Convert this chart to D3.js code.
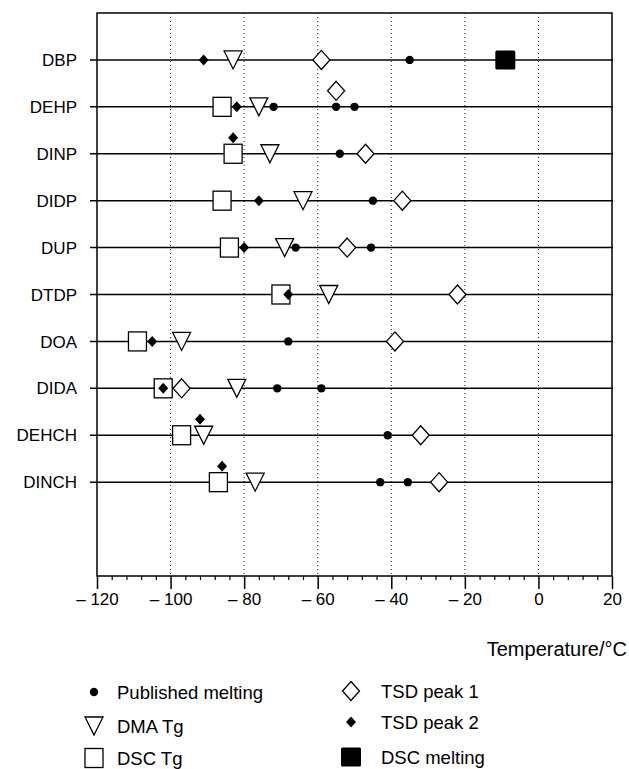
<!DOCTYPE html>
<html>
<head>
<meta charset="utf-8">
<script src="https://cdn.jsdelivr.net/npm/d3@7"></script>
<style>
  html, body { margin: 0; padding: 0; background: #fff; }
  svg { display: block; font-family: "Liberation Sans", Arial, Helvetica, sans-serif; }
</style>
</head>
<body>
<svg id="chart" width="629" height="769"></svg>
<script>
// Plasticisers and their thermal transitions (°C)
const compounds = ["DBP", "DEHP", "DINP", "DIDP", "DUP", "DTDP", "DOA", "DIDA", "DEHCH", "DINCH"];

// Published melting points (some compounds have more than one literature value)
const publishedMelting = [
  [-35], [-72, -55, -50], [-54], [-45], [-66, -45.5],
  [], [-68], [-71, -59], [-41], [-43, -35.5]
];
const dmaTg     = [-83, -76, -73, -64, -69, -57, -97, -82, -91, -77];
const dscTg     = [null, -86, -83, -86, -84, -70, -109, -102, -97, -87];
const tsdPeak1  = [-59, -55, -47, -37, -52, -22, -39, -97, -32, -27];
const tsdPeak2  = [-91, -82, -83, -76, -80, -68, -105, -102, -92, -86];
const dscMelting = [-9, null, null, null, null, null, null, null, null, null];

// Markers lifted above their row so they do not hide a neighbouring marker
const lifted = [
  { compound: "DEHP", series: "tsd1" },
  { compound: "DINP", series: "tsd2" },
  { compound: "DEHCH", series: "tsd2" },
  { compound: "DINCH", series: "tsd2" }
];

const xDomain = [-120, 20];
const majorTicks = d3.range(-120, 21, 20);
const minorTicks = d3.range(-120, 21, 4).filter(v => v % 20 !== 0);

const svg = d3.select("#chart");
const plot = { left: 97, right: 612, top: 13, bottom: 576 };

const x = d3.scaleLinear().domain(xDomain).range([plot.left, plot.right]);
const step = (plot.bottom - plot.top) / 12;
const y = d3.scalePoint().domain(compounds).range([plot.top + step, plot.top + 10 * step]);
const LIFT = 16;

// Dotted grid lines at the inner major ticks
svg.append("g")
  .selectAll("line")
  .data(majorTicks.slice(1, -1))
  .join("line")
  .attr("x1", d => x(d)).attr("x2", d => x(d))
  .attr("y1", plot.top).attr("y2", plot.bottom)
  .attr("stroke", "#222").attr("stroke-width", 1)
  .attr("stroke-dasharray", "1,3");

// Frame
svg.append("rect")
  .attr("x", plot.left).attr("y", plot.top)
  .attr("width", plot.right - plot.left).attr("height", plot.bottom - plot.top)
  .attr("fill", "none").attr("stroke", "#000").attr("stroke-width", 1.5);

// Row lines
svg.append("g")
  .selectAll("line")
  .data(compounds)
  .join("line")
  .attr("x1", plot.left - 7).attr("x2", plot.right + 1)
  .attr("y1", d => y(d)).attr("y2", d => y(d))
  .attr("stroke", "#000").attr("stroke-width", 1.5);

// Row labels
svg.append("g")
  .selectAll("text")
  .data(compounds)
  .join("text")
  .attr("x", 77).attr("y", d => y(d))
  .attr("dy", "0.36em")
  .attr("text-anchor", "end")
  .attr("font-size", 17)
  .attr("fill", "#000")
  .text(d => d);

// Bottom axis: major ticks with labels, minor ticks without
const fmt = v => v < 0 ? "\u2013 " + Math.abs(v) : String(v);
const axisMajor = d3.axisBottom(x).tickValues(majorTicks).tickSize(13).tickPadding(4).tickFormat(fmt);
const axisMinor = d3.axisBottom(x).tickValues(minorTicks).tickSize(4).tickFormat("");

const gMajor = svg.append("g").attr("transform", `translate(0,${plot.bottom})`).call(axisMajor);
gMajor.select(".domain").remove();
gMajor.selectAll(".tick line").attr("stroke", "#000").attr("stroke-width", 1.5);
gMajor.selectAll(".tick text").attr("font-size", 17).attr("fill", "#000")
  .attr("font-family", "\"Liberation Sans\", Arial, sans-serif");

const gMinor = svg.append("g").attr("transform", `translate(0,${plot.bottom})`).call(axisMinor);
gMinor.select(".domain").remove();
gMinor.selectAll(".tick line").attr("stroke", "#000").attr("stroke-width", 1.2);

// Axis title
svg.append("text")
  .attr("x", 627).attr("y", 656)
  .attr("text-anchor", "end")
  .attr("font-size", 20)
  .attr("fill", "#000")
  .text("Temperature/\u00B0C");

// Marker shapes
const shapes = {
  circle:   g => g.append("circle").attr("r", 4.2).attr("fill", "#000"),
  triangle: g => g.append("path").attr("d", "M-9,-9L9,-9L0,9Z")
                  .attr("fill", "#fff").attr("stroke", "#000").attr("stroke-width", 1.3),
  square:   g => g.append("rect").attr("x", -9).attr("y", -9.5).attr("width", 18).attr("height", 19)
                  .attr("fill", "#fff").attr("stroke", "#000").attr("stroke-width", 1.3),
  diamond:  g => g.append("path").attr("d", "M0,-9.5L8.5,0L0,9.5L-8.5,0Z")
                  .attr("fill", "#fff").attr("stroke", "#000").attr("stroke-width", 1.3),
  smallDiamond: g => g.append("path").attr("d", "M0,-5.5L5,0L0,5.5L-5,0Z").attr("fill", "#000"),
  bigSquare: g => g.append("rect").attr("x", -10).attr("y", -9.5).attr("width", 20).attr("height", 19)
                  .attr("rx", 1.5).attr("fill", "#000")
};

// Series in drawing order (open markers underneath filled ones)
const series = [
  { key: "dscTg",  label: "DSC Tg",            shape: "square",       values: dscTg.map(v => [v]) },
  { key: "dmaTg",  label: "DMA Tg",            shape: "triangle",     values: dmaTg.map(v => [v]) },
  { key: "tsd1",   label: "TSD peak 1",        shape: "diamond",      values: tsdPeak1.map(v => [v]) },
  { key: "dscMelt",label: "DSC melting",       shape: "bigSquare",    values: dscMelting.map(v => [v]) },
  { key: "pubMelt",label: "Published melting", shape: "circle",       values: publishedMelting },
  { key: "tsd2",   label: "TSD peak 2",        shape: "smallDiamond", values: tsdPeak2.map(v => [v]) }
];

const isLifted = (c, k) => lifted.some(l => l.compound === c && l.series === k);

series.forEach(s => {
  const pts = [];
  compounds.forEach((c, i) => {
    (s.values[i] || []).forEach(v => {
      if (v !== null && v !== undefined) pts.push({ compound: c, value: v });
    });
  });
  const g = svg.append("g").attr("class", "series-" + s.key);
  pts.forEach(p => {
    const m = g.append("g")
      .attr("transform", `translate(${x(p.value)},${y(p.compound) - (isLifted(p.compound, s.key) ? LIFT : 0)})`);
    shapes[s.shape](m);
  });
});

// Legend
const legendItems = [
  { key: "pubMelt", col: 0, row: 0 },
  { key: "dmaTg",   col: 0, row: 1 },
  { key: "dscTg",   col: 0, row: 2 },
  { key: "tsd1",    col: 1, row: 0 },
  { key: "tsd2",    col: 1, row: 1 },
  { key: "dscMelt", col: 1, row: 2 }
];
const legendCols = [{ sx: 94, tx: 117, rows: [692, 726, 758] }, { sx: 351, tx: 381, rows: [691, 722, 757] }];

const legend = svg.append("g").attr("class", "legend");
legendItems.forEach(it => {
  const s = series.find(d => d.key === it.key);
  const col = legendCols[it.col];
  const cy = col.rows[it.row];
  const m = legend.append("g").attr("transform", `translate(${col.sx},${cy})`);
  shapes[s.shape](m);
  legend.append("text")
    .attr("x", col.tx).attr("y", cy + 6.5)
    .attr("font-size", 18.5)
    .attr("fill", "#000")
    .text(s.label);
});
</script>
</body>
</html>
